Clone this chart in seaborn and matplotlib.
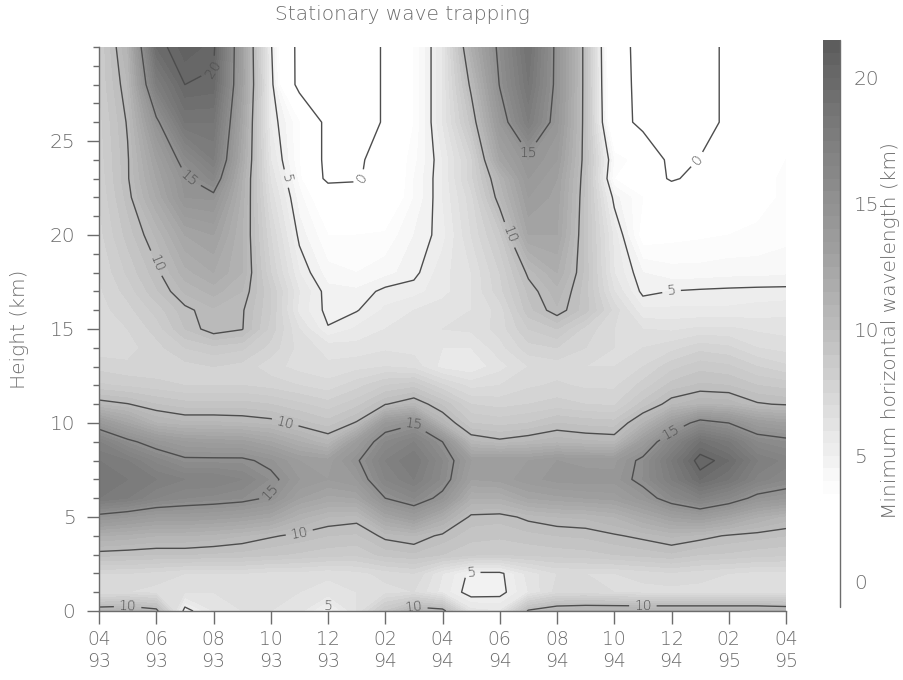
import numpy as np
import pandas as pd
import matplotlib
matplotlib.use("Agg")
import matplotlib.pyplot as plt
from matplotlib.colors import LinearSegmentedColormap
from matplotlib.ticker import MultipleLocator
import seaborn as sns

# Time axis: month index 0 = April 1993 ... 24 = April 1995
months = list(range(25))
month_ticks = list(range(0, 25, 2))
month_labels = ["04\n93", "06\n93", "08\n93", "10\n93", "12\n93", "02\n94", "04\n94",
                "06\n94", "08\n94", "10\n94", "12\n94", "02\n95", "04\n95"]

# Heights (km) of each row of the field
heights = [0, 1, 2, 3, 4, 5, 6, 7, 8, 9, 10, 11, 12, 13, 14, 15, 16, 17, 18,
           20, 22, 23, 24, 26, 28, 30]

# Minimum horizontal wavelength (km), one list per height, columns = months 0..24
km00 = [10.8, 11.0, 10.4, 4.6, 6.0, 6.5, 6.5, 6.2, 4.6, 6.5, 9.0, 10.8, 10.5, 6.2, 6.0, 10.2, 11.0, 11.2, 11.2, 11.2, 11.2, 11.2, 11.2, 11.2, 11.0]
km01 = [7.0, 7.0, 6.8, 6.5, 6.5, 6.6, 6.6, 6.5, 6.3, 6.5, 6.8, 7.0, 5.8, 4.6, 4.7, 6.0, 7.2, 7.2, 7.0, 6.8, 6.8, 6.8, 6.8, 6.8, 6.8]
km02 = [7.5, 7.5, 7.3, 7.0, 7.0, 7.0, 6.8, 6.8, 6.6, 6.8, 7.2, 7.5, 6.0, 4.8, 4.8, 6.2, 7.0, 7.0, 7.0, 7.2, 7.4, 7.2, 7.0, 6.8, 6.8]
km03 = [9.7, 9.6, 9.5, 9.5, 9.4, 9.3, 9.1, 8.9, 8.7, 8.6, 9.2, 9.4, 9.0, 8.6, 8.5, 8.6, 8.7, 8.8, 9.0, 9.2, 9.4, 9.0, 8.9, 8.7, 8.6]
km04 = [11.5, 11.3, 11.0, 11.0, 10.8, 10.5, 10.1, 9.8, 9.5, 9.4, 10.2, 10.5, 9.8, 9.2, 9.1, 9.3, 9.5, 9.6, 9.9, 10.2, 10.6, 10.3, 9.9, 9.7, 9.5]
km05 = [14.5, 14.0, 13.5, 13.5, 13.3, 13.0, 12.5, 11.2, 10.5, 10.3, 12.5, 13.5, 11.8, 9.8, 9.7, 10.2, 10.5, 10.6, 11.0, 12.0, 13.0, 13.5, 12.6, 11.5, 10.8]
km06 = [18.0, 17.5, 16.5, 16.0, 15.8, 15.5, 14.8, 13.0, 12.3, 12.5, 15.0, 16.0, 14.5, 11.5, 11.5, 12.5, 12.8, 13.0, 13.2, 14.2, 15.8, 17.0, 16.0, 14.5, 14.0]
km07 = [18.5, 18.0, 17.5, 17.0, 17.0, 16.5, 15.4, 14.0, 13.5, 14.0, 16.5, 17.5, 15.8, 13.0, 13.2, 13.8, 14.2, 14.3, 14.2, 15.5, 17.5, 19.5, 18.5, 16.8, 16.0]
km08 = [18.0, 17.5, 16.3, 15.3, 15.3, 15.3, 14.6, 13.5, 13.2, 14.8, 17.0, 18.0, 16.0, 13.5, 13.5, 13.5, 14.0, 13.8, 13.8, 15.4, 18.0, 20.5, 19.5, 17.5, 16.8]
km09 = [17.0, 15.4, 14.2, 13.5, 13.3, 13.2, 12.5, 11.5, 10.6, 13.5, 16.0, 17.0, 15.0, 10.6, 10.2, 10.5, 10.8, 10.6, 10.5, 13.5, 16.5, 19.0, 18.0, 16.0, 15.5]
km10 = [14.0, 12.5, 11.0, 10.6, 10.6, 10.5, 10.3, 9.7, 9.2, 10.1, 14.0, 14.8, 10.8, 9.0, 8.8, 9.0, 9.5, 9.3, 9.2, 10.9, 13.5, 15.8, 15.0, 13.5, 13.0]
km11 = [10.4, 10.05, 9.5, 9.2, 9.2, 9.2, 9.0, 8.6, 8.2, 8.8, 9.95, 10.6, 9.4, 8.0, 7.8, 8.0, 8.2, 8.0, 7.9, 9.2, 10.4, 10.9, 10.8, 10.1, 9.9]
km12 = [8.6, 8.4, 8.2, 8.0, 8.0, 8.0, 7.8, 7.5, 7.2, 7.8, 8.5, 8.8, 7.6, 6.8, 7.0, 7.4, 7.6, 7.4, 7.4, 8.2, 9.2, 9.6, 9.5, 9.0, 8.8]
km13 = [7.8, 7.6, 7.6, 7.8, 8.0, 7.8, 7.2, 6.8, 6.6, 6.8, 7.0, 6.8, 5.8, 5.6, 6.3, 7.0, 7.2, 7.0, 7.0, 7.5, 8.3, 8.8, 8.6, 8.0, 7.6]
km14 = [7.2, 7.3, 7.8, 8.5, 8.8, 8.6, 7.8, 6.8, 6.3, 6.2, 6.4, 6.3, 6.0, 6.0, 6.8, 7.8, 8.0, 7.5, 7.0, 7.0, 7.3, 7.8, 7.6, 7.0, 6.8]
km15 = [7.2, 7.5, 8.2, 9.5, 10.4, 10.05, 8.3, 6.5, 5.05, 5.6, 6.0, 6.3, 6.5, 6.6, 7.2, 8.5, 9.0, 7.8, 7.0, 6.5, 6.4, 6.6, 6.6, 6.4, 6.3]
km16 = [7.3, 7.8, 8.7, 9.8, 10.4, 10.1, 8.5, 5.8, 4.8, 4.95, 5.6, 6.0, 6.3, 6.5, 7.2, 9.3, 10.4, 9.2, 7.3, 5.6, 5.6, 5.6, 5.6, 5.7, 5.8]
km17 = [7.4, 8.2, 9.4, 10.6, 11.2, 10.5, 8.5, 6.0, 4.7, 4.6, 5.2, 5.3, 5.8, 6.5, 7.8, 9.6, 10.8, 9.2, 6.5, 4.8, 5.02, 5.1, 5.15, 5.2, 5.2]
km18 = [7.5, 8.6, 9.8, 11.3, 12.0, 11.0, 8.0, 5.5, 4.2, 4.0, 4.3, 4.8, 5.8, 6.5, 8.0, 10.2, 11.5, 9.3, 6.0, 4.5, 4.2, 4.2, 4.3, 4.3, 4.4]
km20 = [7.8, 9.2, 10.6, 12.5, 13.0, 11.0, 7.5, 4.8, 3.5, 3.5, 3.6, 4.5, 5.3, 7.0, 8.8, 12.5, 12.5, 9.2, 5.8, 3.1, 3.3, 3.4, 3.5, 3.6, 3.8]
km22 = [8.0, 9.7, 12.0, 14.5, 14.6, 11.3, 6.8, 4.2, 2.5, 2.5, 2.5, 4.0, 5.5, 7.3, 10.5, 13.5, 12.8, 9.3, 4.7, 3.5, 3.0, 3.0, 3.0, 3.3, 3.6]
km23 = [8.1, 9.9, 12.5, 14.8, 16.2, 11.5, 6.4, 3.8, -0.8, -0.5, 2.2, 4.0, 5.5, 7.8, 11.0, 14.0, 13.0, 9.4, 3.5, 2.5, -0.5, 1.2, 2.8, 3.3, 3.6]
km24 = [8.2, 9.9, 13.0, 15.7, 17.5, 12.0, 6.0, 3.5, -1.0, -1.0, 2.5, 3.8, 5.5, 7.8, 12.5, 14.5, 13.5, 9.5, 3.9, 3.0, -1.0, 0.1, 2.5, 3.2, 3.5]
km26 = [8.3, 10.1, 14.6, 18.5, 18.5, 12.5, 5.5, 3.5, -1.0, -1.0, 0.2, 3.5, 6.0, 9.2, 14.0, 17.5, 14.2, 9.5, 1.8, -1.0, -1.0, -1.0, 0.5, 3.0, 3.5]
km28 = [8.5, 10.5, 17.5, 20.0, 19.8, 13.0, 5.5, -1.0, -1.0, -1.0, 0.2, 3.5, 6.0, 10.3, 15.1, 18.5, 14.5, 9.5, 1.5, -1.0, -1.0, -1.0, 0.5, 3.0, 3.5]
km30 = [8.5, 11.0, 19.5, 20.8, 20.3, 13.0, 5.2, -1.0, -1.0, -1.0, 0.2, 3.5, 6.0, 11.5, 15.5, 19.0, 14.5, 9.5, 1.3, -1.0, -1.0, -1.0, 0.5, 3.0, 3.5]

rows = [km00, km01, km02, km03, km04, km05, km06, km07, km08, km09, km10, km11,
        km12, km13, km14, km15, km16, km17, km18, km20, km22, km23, km24, km26,
        km28, km30]
field = pd.DataFrame(rows, index=heights, columns=months)

# Styling
sns.set_theme(style="white")
plt.rcParams["font.family"] = ["DejaVu Sans"]
plt.rcParams["font.weight"] = 200
TXT = "#6c6c6c"
LINE = "#4d4d4d"

# Grey scale: white below ~3.5 km, darkening towards the top of the range
vmin, vmax = -1.0, 21.5
stops = [(-1.0, 1.00), (3.5, 1.00), (5.0, 0.94), (7.0, 0.86), (10.0, 0.74),
         (13.0, 0.63), (15.0, 0.57), (18.0, 0.48), (21.5, 0.36)]
cmap = LinearSegmentedColormap.from_list(
    "greys_wl", [((v - vmin) / (vmax - vmin), (g, g, g)) for v, g in stops])

fig = plt.figure(figsize=(9.04, 6.8), dpi=100)
ax = fig.add_axes([99 / 904, 69 / 680, 687 / 904, 564 / 680])

X, Y = np.meshgrid(field.columns.values, field.index.values)
Z = field.values
fill_levels = np.arange(vmin, vmax + 0.01, 0.5)
cf = ax.contourf(X, Y, Z, levels=fill_levels, cmap=cmap, vmin=vmin, vmax=vmax)
cs = ax.contour(X, Y, Z, levels=[0, 5, 10, 15, 20], colors=LINE, linewidths=1.0)
ax.clabel(cs, fmt="%d", fontsize=10, inline=True, colors=LINE)

ax.set_xlim(0, 24)
ax.set_ylim(0, 30)
ax.set_xticks(month_ticks)
ax.set_xticklabels(month_labels, linespacing=1.2)
ax.set_yticks(range(0, 30, 5))
ax.yaxis.set_minor_locator(MultipleLocator(1))
ax.tick_params(axis="x", which="major", bottom=True, direction="out", length=9,
               width=1, color=TXT, labelsize=13.5, labelcolor=TXT, pad=5)
ax.tick_params(axis="y", which="major", left=True, direction="out", length=9,
               width=1, color=TXT, labelsize=14.5, labelcolor=TXT, pad=8)
ax.tick_params(axis="y", which="minor", left=True, direction="out", length=4,
               width=1, color=TXT)
sns.despine(ax=ax)
for side in ("left", "bottom"):
    ax.spines[side].set_color(TXT)
    ax.spines[side].set_linewidth(1)

fig.text(20 / 904, 1 - 329 / 680, "Height (km)", rotation=90, ha="center",
         va="center", fontsize=14.5, color=TXT)
fig.text(402 / 904, 1 - 14 / 680, "Stationary wave trapping", ha="center",
         va="center", fontsize=14.5, color=TXT)

# Colour bar
cax = fig.add_axes([823 / 904, 73 / 680, 17 / 904, 567 / 680])
cb = fig.colorbar(cf, cax=cax, ticks=[0, 5, 10, 15, 20])
cb.outline.set_visible(False)
cax.tick_params(length=0, labelsize=14.5, labelcolor=TXT, pad=10)
cax.plot([1, 1], [0, 1], transform=cax.transAxes, color=TXT, lw=1, clip_on=False)
fig.text(891 / 904, 1 - 331 / 680, "Minimum horizontal wavelength (km)",
         rotation=90, ha="center", va="center", fontsize=14.5, color=TXT)

fig.savefig("out.png", dpi=100)
